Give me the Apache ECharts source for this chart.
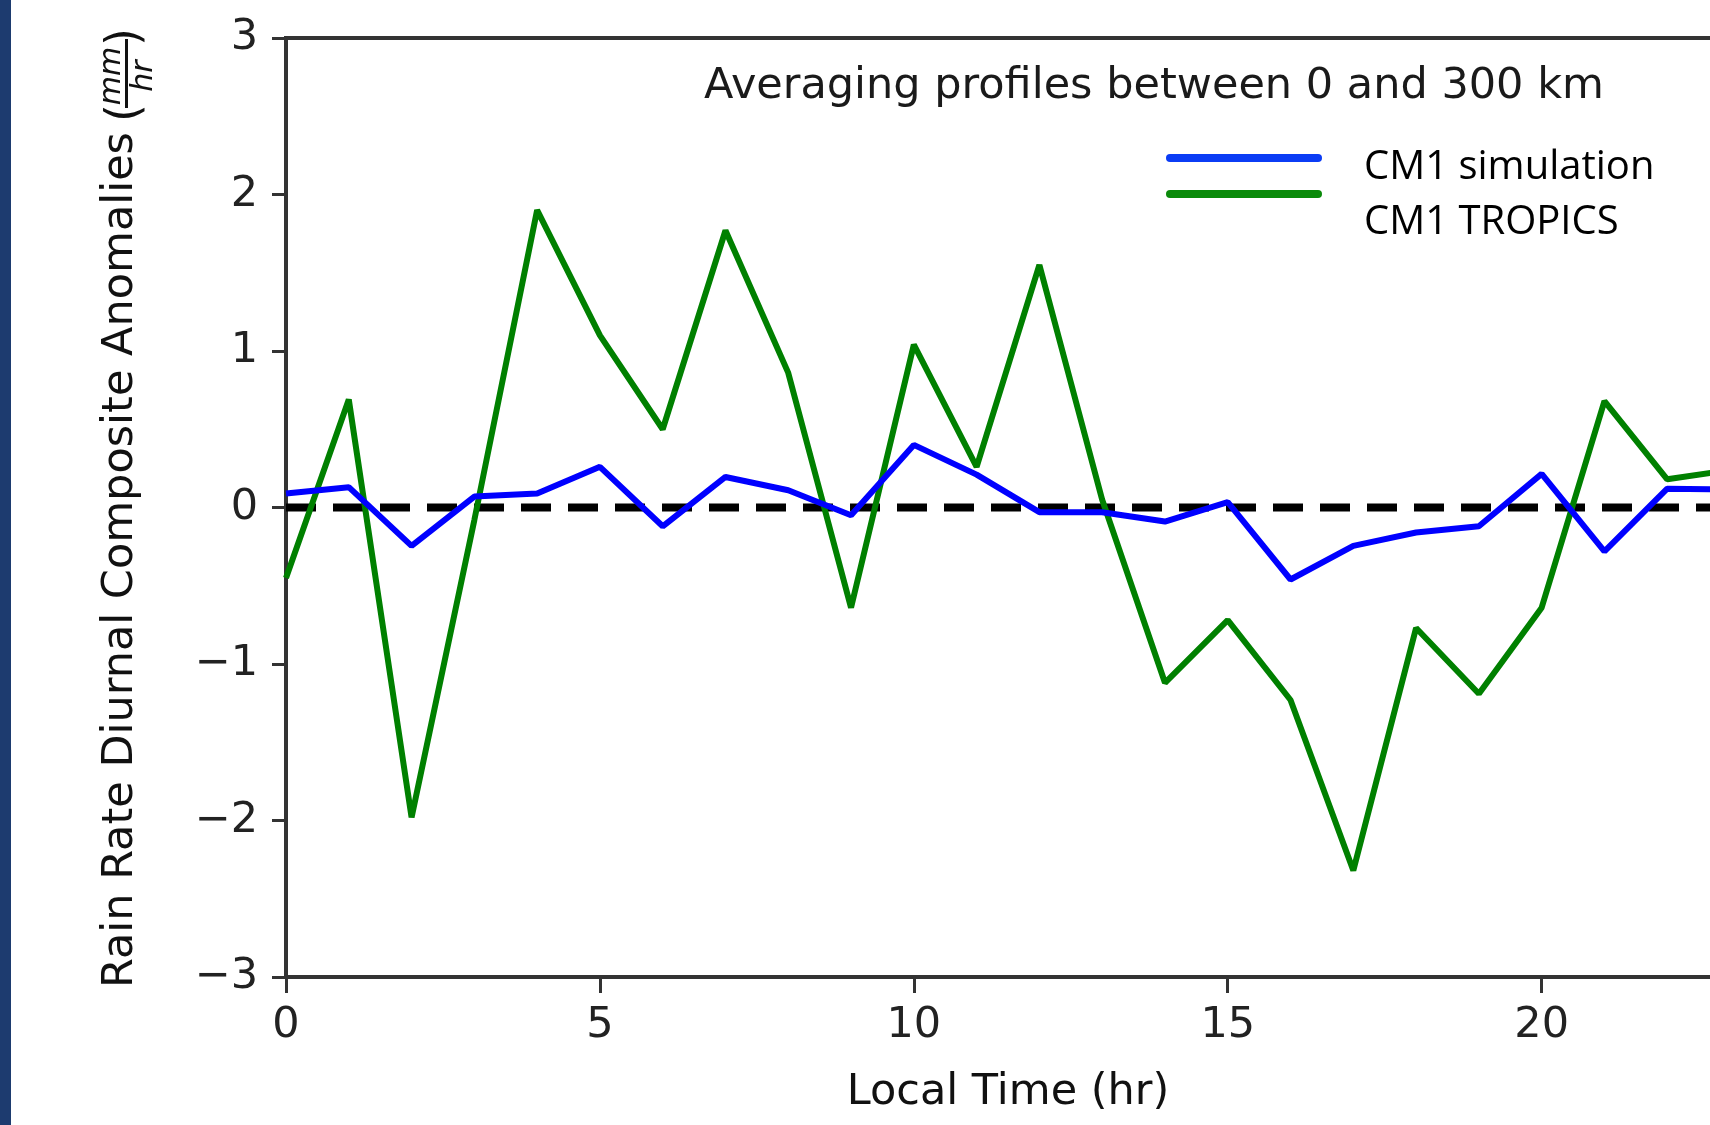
<!DOCTYPE html>
<html>
<head>
<meta charset="utf-8">
<script src="https://cdn.jsdelivr.net/npm/echarts@6/dist/echarts.min.js"></script>
<style>
  html, body { margin: 0; padding: 0; background: #ffffff; }
  #chart { width: 1710px; height: 1125px; }
</style>
</head>
<body>
<div id="chart"></div>
<script>
// ---- data ----
const hours = [0,1,2,3,4,5,6,7,8,9,10,11,12,13,14,15,16,17,18,19,20,21,22,23];
const cm1Simulation = [0.09, 0.13, -0.245, 0.07, 0.09, 0.26, -0.12, 0.195, 0.11, -0.05, 0.40, 0.21,
                       -0.03, -0.03, -0.09, 0.035, -0.46, -0.245, -0.16, -0.12, 0.215, -0.28, 0.12, 0.115];
const cm1Tropics = [-0.45, 0.69, -1.98, -0.08, 1.90, 1.10, 0.50, 1.77, 0.86, -0.64, 1.04, 0.26,
                    1.55, 0.05, -1.12, -0.72, -1.23, -2.32, -0.77, -1.19, -0.64, 0.68, 0.18, 0.24];
const zeroRefX = [0, 23];
const zeroRefY = [0, 0];
const seriesNames = ['CM1 simulation', 'CM1 TROPICS'];
const titleText = 'Averaging profiles between 0 and 300 km';
const xAxisName = 'Local Time (hr)';
const yAxisName = 'Rain Rate Diurnal Composite Anomalies';
const yUnitNum = 'mm';
const yUnitDen = 'hr';

const FONT = '"DejaVu Sans", sans-serif';
const LEG_FONT = '"Open Sans", "Liberation Sans", sans-serif';

const pairs = (xs, ys) => xs.map((x, i) => [x, ys[i]]);

const chart = echarts.init(document.getElementById('chart'), null, { renderer: 'canvas' });

const option = {
  animation: false,
  backgroundColor: '#ffffff',
  grid: {
    left: 286, top: 38, right: -20, bottom: 148,
    containLabel: false,
    outerBoundsMode: 'none',
    show: true, borderColor: '#333333', borderWidth: 4, backgroundColor: 'transparent'
  },
  xAxis: {
    type: 'value', min: 0, max: 23, interval: 5,
    name: xAxisName, nameLocation: 'middle', nameGap: 94,
    nameTextStyle: { fontFamily: FONT, fontSize: 43, color: '#111111' },
    axisLine: { show: true, onZero: false, lineStyle: { color: '#333333', width: 4 } },
    axisTick: { show: true, length: 16, lineStyle: { color: '#333333', width: 3 } },
    axisLabel: { margin: 27, fontFamily: FONT, fontSize: 43, color: '#222222', showMaxLabel: false },
    splitLine: { show: false }
  },
  yAxis: {
    type: 'value', min: -3, max: 3, interval: 1,
    axisLine: { show: true, onZero: false, lineStyle: { color: '#333333', width: 4 } },
    axisTick: { show: true, length: 14, lineStyle: { color: '#333333', width: 3 } },
    axisLabel: {
      margin: 28, fontFamily: FONT, fontSize: 43, color: '#222222',
      formatter: v => String(v).replace('-', '\u2212')
    },
    splitLine: { show: false }
  },
  series: [
    {
      name: 'zero', type: 'line', data: pairs(zeroRefX, zeroRefY),
      showSymbol: false, symbol: 'none', silent: true, z: 1,
      lineStyle: { color: '#000000', width: 8, type: [30, 17], cap: 'butt' }
    },
    {
      name: seriesNames[0], type: 'line', data: pairs(hours, cm1Simulation),
      showSymbol: false, symbol: 'none', z: 3,
      lineStyle: { color: '#0000ff', width: 6 }
    },
    {
      name: seriesNames[1], type: 'line', data: pairs(hours, cm1Tropics),
      showSymbol: false, symbol: 'none', z: 2,
      lineStyle: { color: '#008000', width: 6 }
    }
  ],
  graphic: [
    { type: 'rect', left: 0, top: 0, shape: { width: 11, height: 1125 }, style: { fill: '#1d3b6f' }, z: 10 },
    {
      type: 'text', x: 704, y: 87, z: 10,
      style: { text: titleText, font: '43px ' + FONT, fill: '#1a1a1a',
               align: 'left', textAlign: 'left', verticalAlign: 'middle', textVerticalAlign: 'middle' }
    },
    { type: 'line', z: 10, shape: { x1: 1170, y1: 158, x2: 1318, y2: 158 },
      style: { stroke: '#0b3cf5', lineWidth: 8, lineCap: 'round' } },
    { type: 'line', z: 10, shape: { x1: 1170, y1: 194, x2: 1318, y2: 194 },
      style: { stroke: '#0a8a0a', lineWidth: 8, lineCap: 'round' } },
    {
      type: 'text', x: 1364, y: 168, z: 10,
      style: { text: seriesNames[0], font: '40px ' + LEG_FONT, fill: '#000000',
               align: 'left', textAlign: 'left', verticalAlign: 'middle', textVerticalAlign: 'middle' }
    },
    {
      type: 'text', x: 1364, y: 223, z: 10,
      style: { text: seriesNames[1], font: '40px ' + LEG_FONT, fill: '#000000',
               align: 'left', textAlign: 'left', verticalAlign: 'middle', textVerticalAlign: 'middle' }
    },
    {
      type: 'group', x: 121, y: 988, rotation: Math.PI / 2, z: 10,
      children: [
        { type: 'text', x: 0, y: 0,
          style: { text: yAxisName, font: '43px ' + FONT, fill: '#111111',
                   align: 'left', textAlign: 'left', verticalAlign: 'middle', textVerticalAlign: 'middle' } },
        { type: 'text', x: 866, y: 5,
          style: { text: '(', font: '46px ' + FONT, fill: '#111111',
                   align: 'left', textAlign: 'left', verticalAlign: 'middle', textVerticalAlign: 'middle' } },
        { type: 'text', x: 960, y: 5,
          style: { text: ')', font: '46px ' + FONT, fill: '#111111',
                   align: 'right', textAlign: 'right', verticalAlign: 'middle', textVerticalAlign: 'middle' } },
        { type: 'rect', shape: { x: 880, y: 4, width: 69, height: 3 }, style: { fill: '#111111' } },
        { type: 'text', x: 912, y: -9,
          style: { text: yUnitNum, font: 'italic 30px ' + FONT, fill: '#111111',
                   align: 'center', textAlign: 'center', verticalAlign: 'middle', textVerticalAlign: 'middle' } },
        { type: 'text', x: 912, y: 23,
          style: { text: yUnitDen, font: 'italic 30px ' + FONT, fill: '#111111',
                   align: 'center', textAlign: 'center', verticalAlign: 'middle', textVerticalAlign: 'middle' } }
      ]
    }
  ]
};

chart.setOption(option);
</script>
</body>
</html>
